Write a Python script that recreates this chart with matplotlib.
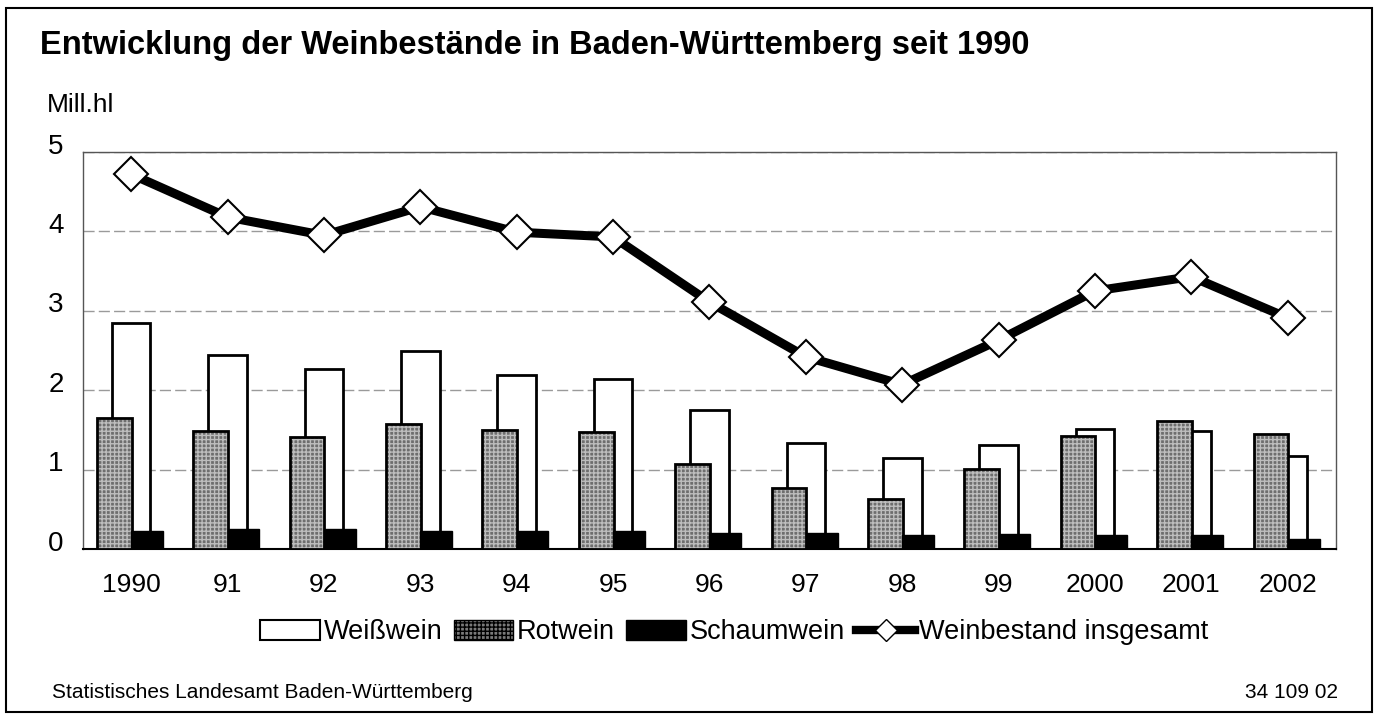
import matplotlib.pyplot as plt
import matplotlib.transforms as mtransforms
from matplotlib.patches import Rectangle, Patch
from matplotlib.lines import Line2D

plt.rcParams['font.family'] = ['Liberation Sans', 'DejaVu Sans']

# Data (Mill. hl)
years = ['1990', '91', '92', '93', '94', '95', '96', '97', '98', '99', '2000', '2001', '2002']
weisswein = [2.85, 2.44, 2.27, 2.49, 2.19, 2.14, 1.75, 1.34, 1.15, 1.31, 1.51, 1.49, 1.17]
rotwein = [1.65, 1.49, 1.41, 1.57, 1.50, 1.47, 1.07, 0.77, 0.63, 1.01, 1.42, 1.61, 1.45]
schaumwein = [0.23, 0.25, 0.25, 0.23, 0.23, 0.23, 0.20, 0.20, 0.18, 0.19, 0.18, 0.17, 0.13]
insgesamt = [4.72, 4.18, 3.95, 4.31, 3.99, 3.93, 3.11, 2.42, 2.07, 2.63, 3.25, 3.43, 2.91]

x = list(range(len(years)))

fig = plt.figure(figsize=(13.78, 7.21), dpi=100)
ax = fig.add_axes([0.0602, 0.2386, 0.9093, 0.5506])

# Bars: white behind, red (hatched gray) in front, sparkling at the bottom
ax.bar([i - 0.2 for i in x], weisswein, width=0.40, align='edge',
       facecolor='white', edgecolor='black', linewidth=2, zorder=2)
ax.bar([i - 0.355 for i in x], rotwein, width=0.36, align='edge',
       facecolor='#6e6e6e', edgecolor='#bdbdbd', hatch='++++', linewidth=0, zorder=3)
ax.bar([i - 0.355 for i in x], rotwein, width=0.36, align='edge',
       fill=False, edgecolor='black', linewidth=2, zorder=3.5)
ax.bar(x, schaumwein, width=0.33, align='edge',
       facecolor='black', edgecolor='black', linewidth=1, zorder=4)

# Total line
ax.plot(x, insgesamt, color='black', linewidth=6.5, marker='D', markersize=17,
        markerfacecolor='white', markeredgecolor='black', markeredgewidth=1.5, zorder=5)

ax.set_xlim(-0.5, len(years) - 0.5)
ax.set_ylim(0, 5)
ax.set_yticks([0, 1, 2, 3, 4, 5])
ax.set_xticks(x)
ax.set_xticklabels(years)
ax.tick_params(axis='both', length=0)
ax.tick_params(axis='x', pad=17, labelsize=19)
ax.tick_params(axis='y', pad=14, labelsize=20)
# y labels sit a little above their grid lines
shift = mtransforms.ScaledTranslation(0, 6 / 72, fig.dpi_scale_trans)
for lab in ax.get_yticklabels():
    lab.set_transform(lab.get_transform() + shift)
ax.grid(axis='y', color='#9a9a9a', linewidth=1, linestyle=(0, (8, 3)), zorder=0)
ax.set_axisbelow(True)
for s in ax.spines.values():
    s.set_color('#555555')
    s.set_linewidth(1)
ax.spines['bottom'].set_color('black')
ax.spines['bottom'].set_linewidth(1.5)

# Legend
handles = [
    Patch(facecolor='white', edgecolor='black', linewidth=1.5),
    Patch(facecolor='#7a7a7a', edgecolor='black', linewidth=1, hatch='++++'),
    Patch(facecolor='black', edgecolor='black'),
    Line2D([0], [0], color='black', linewidth=6, marker='D', markersize=11,
           markerfacecolor='white', markeredgecolor='black'),
]
labels = ['Weißwein', 'Rotwein', 'Schaumwein', 'Weinbestand insgesamt']
fig.legend(handles, labels, loc='center', bbox_to_anchor=(0.533, 0.123), ncol=4,
           frameon=False, fontsize=19.5, handlelength=2.2, handleheight=0.75,
           handletextpad=0.15, columnspacing=0.4)

# Texts
fig.text(0.029, 0.937, 'Entwicklung der Weinbestände in Baden-Württemberg seit 1990',
         fontsize=23.5, fontweight='bold', va='center', ha='left')
fig.text(0.034, 0.855, 'Mill.hl', fontsize=19, va='center', ha='left')
fig.text(0.038, 0.040, 'Statistisches Landesamt Baden-Württemberg', fontsize=15,
         va='center', ha='left')
fig.text(0.971, 0.040, '34 109 02', fontsize=15, va='center', ha='right')

# Frame around the whole figure
fig.patches.append(Rectangle((0.004, 0.012), 0.992, 0.977, transform=fig.transFigure,
                             fill=False, edgecolor='black', linewidth=1.5))

fig.savefig('out.png', dpi=100)
